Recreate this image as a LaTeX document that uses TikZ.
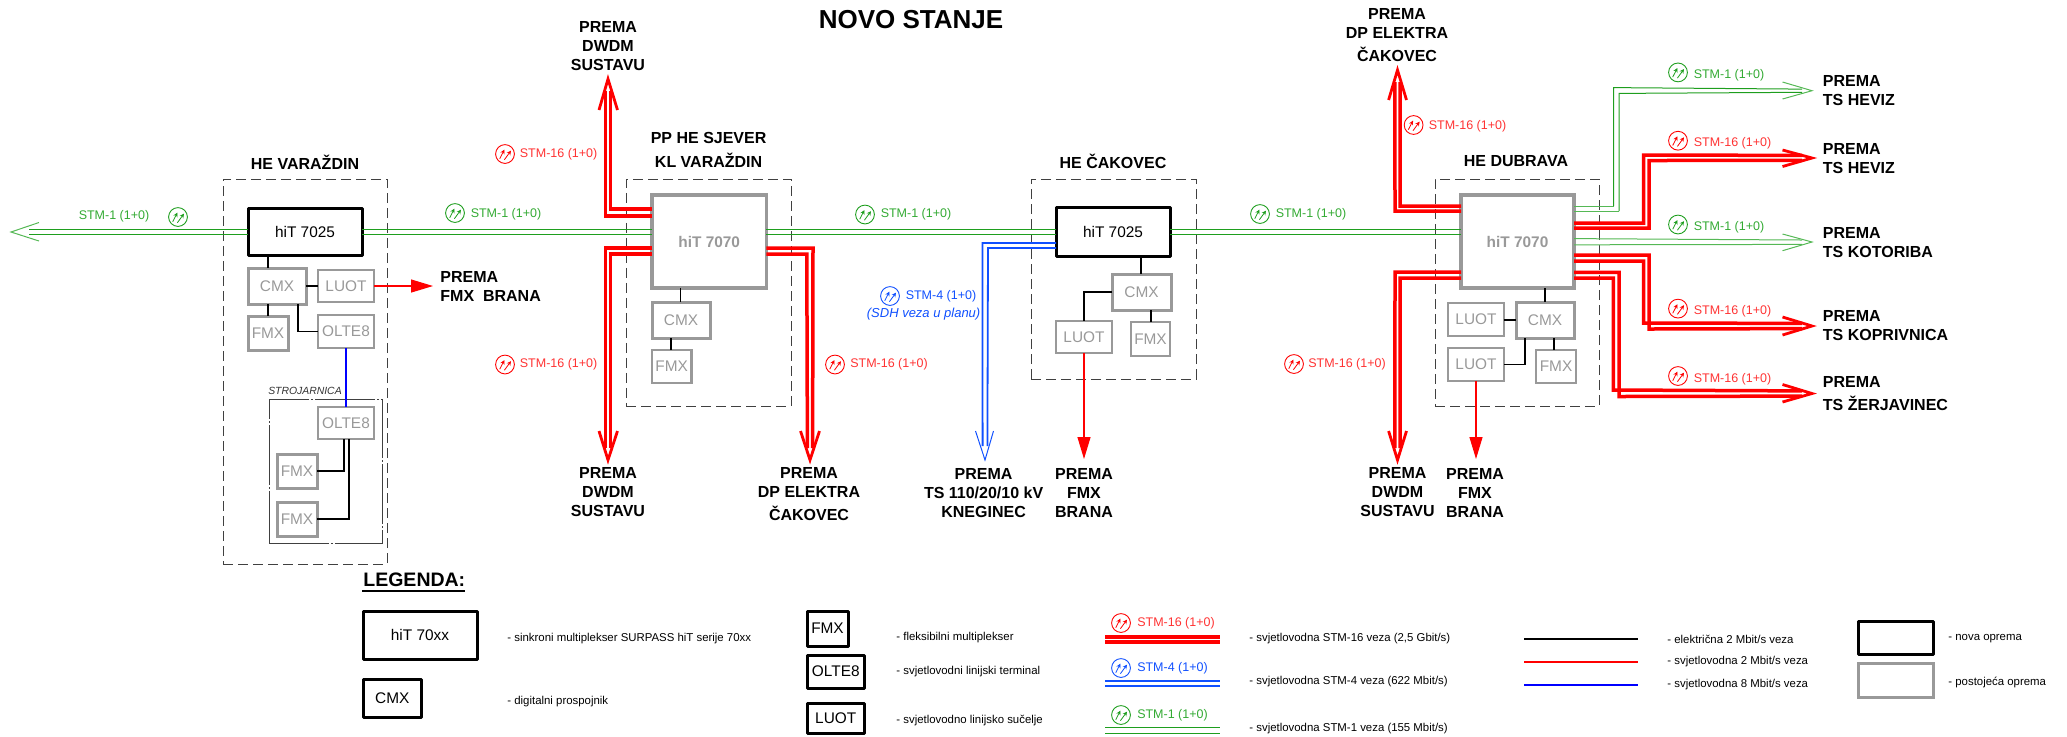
\documentclass[tikz,border=0pt]{standalone}
\usepackage{fontspec}
\setmainfont{Liberation Sans}
\usetikzlibrary{fit,arrows.meta}
\definecolor{Gr}{HTML}{1E9E1E}
\definecolor{GrL}{HTML}{55B855}
\definecolor{GrT}{HTML}{33AA33}
\definecolor{Rd}{HTML}{FF0000}
\definecolor{RdT}{HTML}{FF3333}
\definecolor{Bl}{HTML}{1050FF}
\definecolor{Bk}{HTML}{0000FF}
\definecolor{Gy}{HTML}{999999}
\newcommand{\ttlfont}{\fontsize{8}{9.5}\selectfont\bfseries}
\newcommand{\boxfont}{\fontsize{7.7}{9}\selectfont}
\newcommand{\lblfont}{\fontsize{6.25}{7.5}\selectfont}
\newcommand{\descfont}{\fontsize{5.7}{7}\selectfont}
\tikzset{
 basebox/.style={rectangle,inner sep=0pt,outer sep=0pt,font=\boxfont},
 newbox/.style={basebox,draw=black,line width=1.5pt,line join=round},
 oldbox/.style={basebox,draw=Gy,text=Gy,line width=1.5pt},
 oldthin/.style={basebox,draw=Gy,text=Gy,line width=1.2pt},
 bigold/.style={basebox,draw=Gy,text=Gy,line width=1.75pt,font=\boxfont\bfseries},
 sitebox/.style={basebox,draw=black!75,line width=.4pt,dash pattern=on 5pt off 2.5pt},
 subbox/.style={basebox,draw=black!75,line width=.4pt,dash pattern=on 30pt off 1pt on 1pt off 1pt},
 ttl/.style={font=\ttlfont,align=center,inner sep=0pt},
 ttlL/.style={font=\ttlfont,align=left,anchor=west,inner sep=0pt},
 lbl/.style={font=\lblfont,inner sep=0pt},
 desc/.style={font=\descfont,anchor=west,inner sep=0pt},
 wire/.style={draw=black,line width=.6pt},
 g1/.style={draw=Gr,line width=.5pt},
 g1l/.style={draw=GrL,line width=.5pt},
 ghead/.style={draw=GrL,line width=.5pt,line join=miter},
 r16/.style={draw=Rd,line width=1.75pt,line join=miter},
 rhead/.style={draw=Rd,line width=1.4pt,line join=miter},
 b4/.style={draw=Bl,line width=.9pt,line join=miter},
 bhead/.style={draw=Bl,line width=.5pt,line join=miter},
 rarr/.style={draw=Rd,line width=.6pt,-{Triangle[length=11pt,width=6.5pt,fill=Rd]}},
}
\newcommand{\bx}[7]{\node[#1,fit={(#3,#4)(#5,#6)}] (#2) {};%
 \if\relax\detokenize{#7}\relax\else\node[#1,draw=none] (#2t) at (#2.center) {#7};\fi}
\newcommand{\sigicon}[4]{%
 \node[circle,draw=#2,line width=.45pt,minimum size=9.4pt,inner sep=0pt] (#1) at (#3,#4) {};
 \begin{scope}[shift={(#3,#4)}]
  \draw[#2,line width=.4pt,-{Stealth[length=2.2pt,width=2.2pt]}] (-5.3,4.7) -- (-.6,-4.4);
  \draw[#2,line width=.4pt,-{Stealth[length=2.2pt,width=2.2pt]}] (-.6,5.7) -- (6,-3.4);
 \end{scope}}
\begin{document}
\begin{tikzpicture}[x=.5pt,y=-.5pt]
\useasboundingbox (0,0) rectangle (2067,736);
\node[font=\fontsize{13}{15}\selectfont\bfseries,inner sep=0pt] (title) at (911,20) {NOVO STANJE};

% ---- HE VARAZDIN
\node[ttl] (tv) at (305,162) {HE VARAŽDIN};
\bx{sitebox}{sv}{223}{179}{387}{564}{}
\bx{subbox}{sj}{269}{399}{382}{543}{}
\node[font=\fontsize{5.2}{6}\selectfont\itshape,text=black!80,inner sep=0pt] (sjl) at (305,391) {STROJARNICA};
\bx{newbox}{va}{248}{208}{362}{255}{hiT 7025}
\bx{oldbox}{vc}{248}{268}{306}{304}{CMX}
\bx{oldthin}{vl}{318}{270}{374}{302}{LUOT}
\bx{oldbox}{vf}{248}{316}{288}{350}{FMX}
\bx{oldthin}{vo}{318}{315}{374}{348}{OLTE8}
\bx{oldthin}{vp}{318}{407}{374}{439}{OLTE8}
\bx{oldbox}{vg}{277}{454}{317}{488}{FMX}
\bx{oldbox}{vh}{277}{502}{317}{536}{FMX}
\draw[wire] (va.south -| 268,0) -- (vc.north -| 268,0);
\draw[wire] (vc.east |- 0,286) -- (vl.west |- 0,286);
\draw[wire] (vc.south -| 268,0) -- (vf.north -| 268,0);
\draw[wire] (vc.south -| 298,0) |- (vo.west);
\draw[draw=Bk,line width=.6pt] (vo.south) -- (vp.north);
\draw[wire] (vp.south -| 344,0) |- (vg.east);
\draw[wire] (vp.south -| 349,0) |- (vh.east);
\coordinate (vfmx) at (433,286);
\draw[rarr] (vl.east) -- (vfmx);
\node[ttlL] (pv) at (440,286.5) {PREMA\\FMX\ \ BRANA};
\coordinate (gtipw) at (11,232);
\draw[g1] (va.west |- 0,229) -- ([xshift=9pt,yshift=1.5pt]gtipw);
\draw[g1] (va.west |- 0,234) -- ([xshift=9pt,yshift=-1pt]gtipw);
\draw[ghead] (39,222.5) -- (gtipw) -- (39,241);
\node[lbl,text=GrT] (l1) at (114,216) {STM-1 (1+0)};
\sigicon{i1}{Gr}{178}{217}

% ---- PP HE SJEVER
\node[ttl] (tp) at (708.6,150) {PP HE SJEVER\\[2.2pt]KL VARAŽDIN};
\bx{sitebox}{sp}{626.4}{179}{791}{406}{}
\bx{bigold}{pa}{652}{195}{766.4}{288}{hiT 7070}
\bx{oldbox}{pc}{652}{302}{710}{338}{CMX}
\bx{oldthin}{pf}{652}{350}{691.4}{383}{FMX}
\draw[wire] (pa.south -| 680.7,0) -- (pc.north -| 680.7,0);
\draw[wire] (pc.south -| 671,0) -- (pf.north -| 671,0);
\draw[g1] (va.east |- 0,229) -- (pa.west |- 0,229);
\draw[g1] (va.east |- 0,234) -- (pa.west |- 0,234);
\node[lbl,text=GrT] (l2) at (506,214) {STM-1 (1+0)};
\sigicon{i2}{Gr}{455}{213}
% up
\coordinate (t1) at (608,79);
\draw[r16] (pa.west |- 0,209) -- (610.6,209) -- ([xshift=1.3pt,yshift=-6pt]t1);
\draw[r16] (pa.west |- 0,216) -- (605.4,216) -- ([xshift=-1.3pt,yshift=-6pt]t1);
\draw[rhead] (599,110) -- (t1) -- (617.5,110);
\node[ttl] (n1) at (608,46.5) {PREMA\\DWDM\\SUSTAVU};
\node[lbl,text=RdT] (l3) at (558.6,154) {STM-16 (1+0)};
\sigicon{i3}{Rd}{505}{154}
% down left
\coordinate (t2) at (608,460);
\draw[r16] (pa.west |- 0,248) -- (605.4,248) -- ([xshift=-1.3pt,yshift=6pt]t2);
\draw[r16] (pa.west |- 0,254) -- (610.6,254) -- ([xshift=1.3pt,yshift=6pt]t2);
\draw[rhead] (599,431) -- (t2) -- (617.5,431);
\node[ttl] (n2) at (608,492.5) {PREMA\\DWDM\\SUSTAVU};
\node[lbl,text=RdT] (l4) at (558.6,364.5) {STM-16 (1+0)};
\sigicon{i4}{Rd}{505}{364.5}
% down right
\coordinate (t3) at (810,460);
\draw[r16] (pa.east |- 0,248) -- (813,248) -- ([xshift=1.3pt,yshift=6pt]t3);
\draw[r16] (pa.east |- 0,254) -- (806.8,254) -- ([xshift=-1.3pt,yshift=6pt]t3);
\draw[rhead] (800.5,431) -- (t3) -- (819.5,431);
\node[ttl] (n3) at (809,494.5) {PREMA\\DP ELEKTRA\\[2pt]ČAKOVEC};
\node[lbl,text=RdT] (l5) at (889,364.5) {STM-16 (1+0)};
\sigicon{i5}{Rd}{835}{364.5}
\node[lbl,text=GrT] (l6) at (916,214.5) {STM-1 (1+0)};
\sigicon{i6}{Gr}{865}{214.5}

% ---- HE CAKOVEC
\node[ttl] (tk) at (1113,161) {HE ČAKOVEC};
\bx{sitebox}{sk}{1031}{179}{1196}{379}{}
\bx{newbox}{ka}{1056}{207}{1170}{256}{hiT 7025}
\bx{oldbox}{kc}{1112}{274}{1171}{310}{CMX}
\bx{oldthin}{kl}{1056}{321}{1112}{353}{LUOT}
\bx{oldthin}{kf}{1131}{322}{1170}{356}{FMX}
\draw[wire] (ka.south -| 1141,0) -- (kc.north -| 1141,0);
\draw[wire] (kc.west |- 0,292) -| (kl.north);
\draw[wire] (kc.south -| 1151,0) -- (kf.north -| 1151,0);
\coordinate (tk1) at (1084,459);
\draw[rarr] (kl.south) -- (tk1);
\node[ttl] (n4) at (1084,492.5) {PREMA\\FMX\\BRANA};
\draw[g1] (pa.east |- 0,229) -- (ka.west |- 0,229);
\draw[g1] (pa.east |- 0,234) -- (ka.west |- 0,234);
% blue
\coordinate (t4) at (985,460);
\draw[b4] (ka.west |- 0,243) -- (982.5,243) -- ([xshift=-1.2pt,yshift=7pt]t4);
\draw[b4] (ka.west |- 0,248) -- (988,248) -- ([xshift=1.2pt,yshift=7pt]t4);
\draw[bhead] (975.5,431) -- (t4) -- (993.5,431);
\sigicon{i7}{Bl}{890}{296}
\node[lbl,text=Bl] (l7) at (941,296) {STM-4 (1+0)};
\node[font=\fontsize{6.5}{8}\selectfont\itshape,text=Bl,inner sep=0pt] (l8) at (923.6,314) {(SDH veza u planu)};
\node[ttl] (n5) at (983.6,493.5) {PREMA\\TS 110/20/10 kV\\KNEGINEC};

% ---- HE DUBRAVA
\node[ttl] (td) at (1516,161) {HE DUBRAVA};
\bx{sitebox}{sd}{1435}{179}{1599}{406}{}
\bx{bigold}{da}{1461}{195}{1574}{288}{hiT 7070}
\bx{oldbox}{dc}{1516}{302}{1574}{338}{CMX}
\bx{oldthin}{dl}{1448}{303}{1504}{336}{LUOT}
\bx{oldthin}{dm}{1448}{348}{1504}{381}{LUOT}
\bx{oldthin}{df}{1536}{350}{1576}{383}{FMX}
\draw[wire] (da.south -| 1545,0) -- (dc.north -| 1545,0);
\draw[wire] (dl.east |- 0,320) -- (dc.west |- 0,320);
\draw[wire] (dc.south -| 1525,0) |- (dm.east);
\draw[wire] (dc.south -| 1554,0) -- (df.north -| 1554,0);
\coordinate (tk2) at (1476,459);
\draw[rarr] (dm.south) -- (tk2);
\draw[g1] (ka.east |- 0,229) -- (da.west |- 0,229);
\draw[g1] (ka.east |- 0,234) -- (da.west |- 0,234);
\node[lbl,text=GrT] (l9) at (1311,214) {STM-1 (1+0)};
\sigicon{i8}{Gr}{1260}{214}
% up
\coordinate (t5) at (1397.5,70);
\draw[r16] (da.west |- 0,206) -- (1400.2,206) -- ([xshift=1.3pt,yshift=-6pt]t5);
\draw[r16] (da.west |- 0,211) -- (1395,211) -- ([xshift=-1.3pt,yshift=-6pt]t5);
\draw[rhead] (1388.6,100) -- (t5) -- (1406.5,100);
\node[ttl] (n6) at (1397,35.5) {PREMA\\DP ELEKTRA\\[2pt]ČAKOVEC};
\sigicon{i9}{Rd}{1413.6}{125}
\node[lbl,text=RdT] (l10) at (1467.5,126.5) {STM-16 (1+0)};
% down
\coordinate (t6) at (1397.5,460);
\draw[r16] (da.west |- 0,272) -- (1395,272) -- ([xshift=-1.3pt,yshift=6pt]t6);
\draw[r16] (da.west |- 0,278) -- (1400.2,278) -- ([xshift=1.3pt,yshift=6pt]t6);
\draw[rhead] (1388.6,431) -- (t6) -- (1406.5,431);
\node[ttl] (n7) at (1397.5,492.5) {PREMA\\DWDM\\SUSTAVU};
\node[ttl] (n8) at (1475,492.5) {PREMA\\FMX\\BRANA};
\sigicon{i10}{Rd}{1294}{364}
\node[lbl,text=RdT] (l11) at (1347,364) {STM-16 (1+0)};
% right: green Heviz
\coordinate (t7) at (1812,90.7);
\draw[g1l] (da.east |- 0,206) -- (1613.6,206);
\draw[g1l] (da.east |- 0,211) -- (1619,211);
\draw[g1] (1613.6,206) -- (1613.6,87.6) -- ([xshift=-5pt,yshift=.8pt]t7);
\draw[g1] (1619,211) -- (1619,93.4) -- ([xshift=-5pt,yshift=-.8pt]t7);
\draw[ghead] (1782.5,82) -- (t7) -- (1782.5,99);
\sigicon{i11}{Gr}{1678}{72.4}
\node[lbl,text=GrT] (l12) at (1729,75) {STM-1 (1+0)};
\node[ttlL] (n9) at (1822.5,91) {PREMA\\TS HEVIZ};
% right: red Heviz
\coordinate (t8) at (1812,158);
\draw[r16] (da.east |- 0,223) -- (1643.6,223) -- (1643.6,155) -- ([xshift=-5pt,yshift=1.3pt]t8);
\draw[r16] (da.east |- 0,228) -- (1649,228) -- (1649,160.5) -- ([xshift=-5pt,yshift=-1.2pt]t8);
\draw[rhead] (1782.5,150) -- (t8) -- (1782.5,166.5);
\sigicon{i12}{Rd}{1678}{140.7}
\node[lbl,text=RdT] (l13) at (1732.5,143) {STM-16 (1+0)};
\node[ttlL] (n10) at (1822.5,158.5) {PREMA\\TS HEVIZ};
% right: green Kotoriba
\coordinate (t9) at (1812,242);
\draw[g1l] (da.east |- 0,238.6) -- ([xshift=-5pt,yshift=1pt]t9);
\draw[g1l] (da.east |- 0,244.8) -- ([xshift=-5pt,yshift=-1.2pt]t9);
\draw[ghead] (1782.5,234) -- (t9) -- (1782.5,250.7);
\sigicon{i13}{Gr}{1678}{224.5}
\node[lbl,text=GrT] (l14) at (1729,227.6) {STM-1 (1+0)};
\node[ttlL] (n11) at (1822.5,242.5) {PREMA\\TS KOTORIBA};
% right: red Koprivnica
\coordinate (t10) at (1812,326);
\draw[r16] (da.east |- 0,255) -- (1649,255) -- (1649,329) -- ([xshift=-5pt,yshift=-1.3pt]t10);
\draw[r16] (da.east |- 0,261) -- (1643.6,261) -- (1643.6,323) -- ([xshift=-5pt,yshift=1.3pt]t10);
\draw[rhead] (1782.5,317) -- (t10) -- (1782.5,335);
\sigicon{i14}{Rd}{1678}{308.6}
\node[lbl,text=RdT] (l15) at (1732.5,311) {STM-16 (1+0)};
\node[ttlL] (n12) at (1822.5,326) {PREMA\\TS KOPRIVNICA};
% right: red Zerjavinec
\coordinate (t11) at (1812,393.5);
\draw[r16] (da.east |- 0,272.4) -- (1619,272.4) -- (1619,396.5) -- ([xshift=-5pt,yshift=-1.3pt]t11);
\draw[r16] (da.east |- 0,278) -- (1613.4,278) -- (1613.4,390) -- ([xshift=-5pt,yshift=1.3pt]t11);
\draw[rhead] (1782.5,384.5) -- (t11) -- (1782.5,402);
\sigicon{i15}{Rd}{1678}{376}
\node[lbl,text=RdT] (l16) at (1732.5,379) {STM-16 (1+0)};
\node[ttlL] (n13) at (1822.5,394) {PREMA\\[2pt]TS ŽERJAVINEC};

% ---- LEGEND
\node[font=\fontsize{9.75}{11}\selectfont\bfseries,anchor=west,inner sep=0pt] (lg) at (363,580) {LEGENDA:};
\coordinate (lgu1) at (362,591);
\coordinate (lgu2) at (465,591);
\draw[line width=.6pt] (lgu1) -- (lgu2);
\bx{newbox}{a1}{363}{611}{477}{659}{hiT 70xx}
\bx{newbox}{a2}{363}{679}{421.6}{717}{CMX}
\bx{newbox}{a3}{807}{611}{848}{646}{FMX}
\bx{newbox}{a4}{807}{655}{864.5}{688}{OLTE8}
\bx{newbox}{a5}{807}{703}{864.5}{733}{LUOT}
\node[desc] (d1) at (507,639) {- sinkroni multiplekser SURPASS hiT serije 70xx};
\node[desc] (d2) at (507,702) {- digitalni prospojnik};
\node[desc] (d3) at (896,638) {- fleksibilni multiplekser};
\node[desc] (d4) at (896,672) {- svjetlovodni linijski terminal};
\node[desc] (d5) at (896,721) {- svjetlovodno linijsko sučelje};
\sigicon{i16}{Rd}{1121}{623}
\node[lbl,text=RdT] (l17) at (1176,623) {STM-16 (1+0)};
\coordinate (s1a) at (1105,637); \coordinate (s1b) at (1220,637);
\coordinate (s2a) at (1105,642); \coordinate (s2b) at (1220,642);
\draw[r16] (s1a) -- (s1b);
\draw[r16] (s2a) -- (s2b);
\sigicon{i17}{Bl}{1121}{668}
\node[lbl,text=Bl] (l18) at (1172.5,668) {STM-4 (1+0)};
\coordinate (s3a) at (1105,681); \coordinate (s3b) at (1220,681);
\coordinate (s4a) at (1105,686); \coordinate (s4b) at (1220,686);
\draw[b4] (s3a) -- (s3b);
\draw[b4] (s4a) -- (s4b);
\sigicon{i18}{Gr}{1121}{715}
\node[lbl,text=GrT] (l19) at (1172.5,715) {STM-1 (1+0)};
\coordinate (s5a) at (1105,727); \coordinate (s5b) at (1220,727);
\coordinate (s6a) at (1105,733); \coordinate (s6b) at (1220,733);
\draw[g1] (s5a) -- (s5b);
\draw[g1] (s6a) -- (s6b);
\node[desc] (d6) at (1249,639) {- svjetlovodna STM-16 veza (2,5 Gbit/s)};
\node[desc] (d7) at (1249,682) {- svjetlovodna STM-4 veza (622 Mbit/s)};
\node[desc] (d8) at (1249,729) {- svjetlovodna STM-1 veza (155 Mbit/s)};
\coordinate (s7a) at (1524,639); \coordinate (s7b) at (1638,639);
\coordinate (s8a) at (1524,662); \coordinate (s8b) at (1638,662);
\coordinate (s9a) at (1524,685); \coordinate (s9b) at (1638,685);
\draw[wire] (s7a) -- (s7b);
\draw[draw=Rd,line width=.6pt] (s8a) -- (s8b);
\draw[draw=Bk,line width=.6pt] (s9a) -- (s9b);
\node[desc] (d9) at (1667,639) {- električna 2 Mbit/s veza};
\node[desc] (d10) at (1667,662) {- svjetlovodna 2 Mbit/s veza};
\node[desc] (d11) at (1667,685) {- svjetlovodna 8 Mbit/s veza};
\bx{newbox}{a6}{1858}{621}{1933}{654}{}
\bx{oldbox}{a7}{1858}{663}{1933}{697}{}
\node[desc] (d12) at (1948,639) {- nova oprema};
\node[desc] (d13) at (1948,682) {- postojeća oprema};
\end{tikzpicture}
\end{document}
